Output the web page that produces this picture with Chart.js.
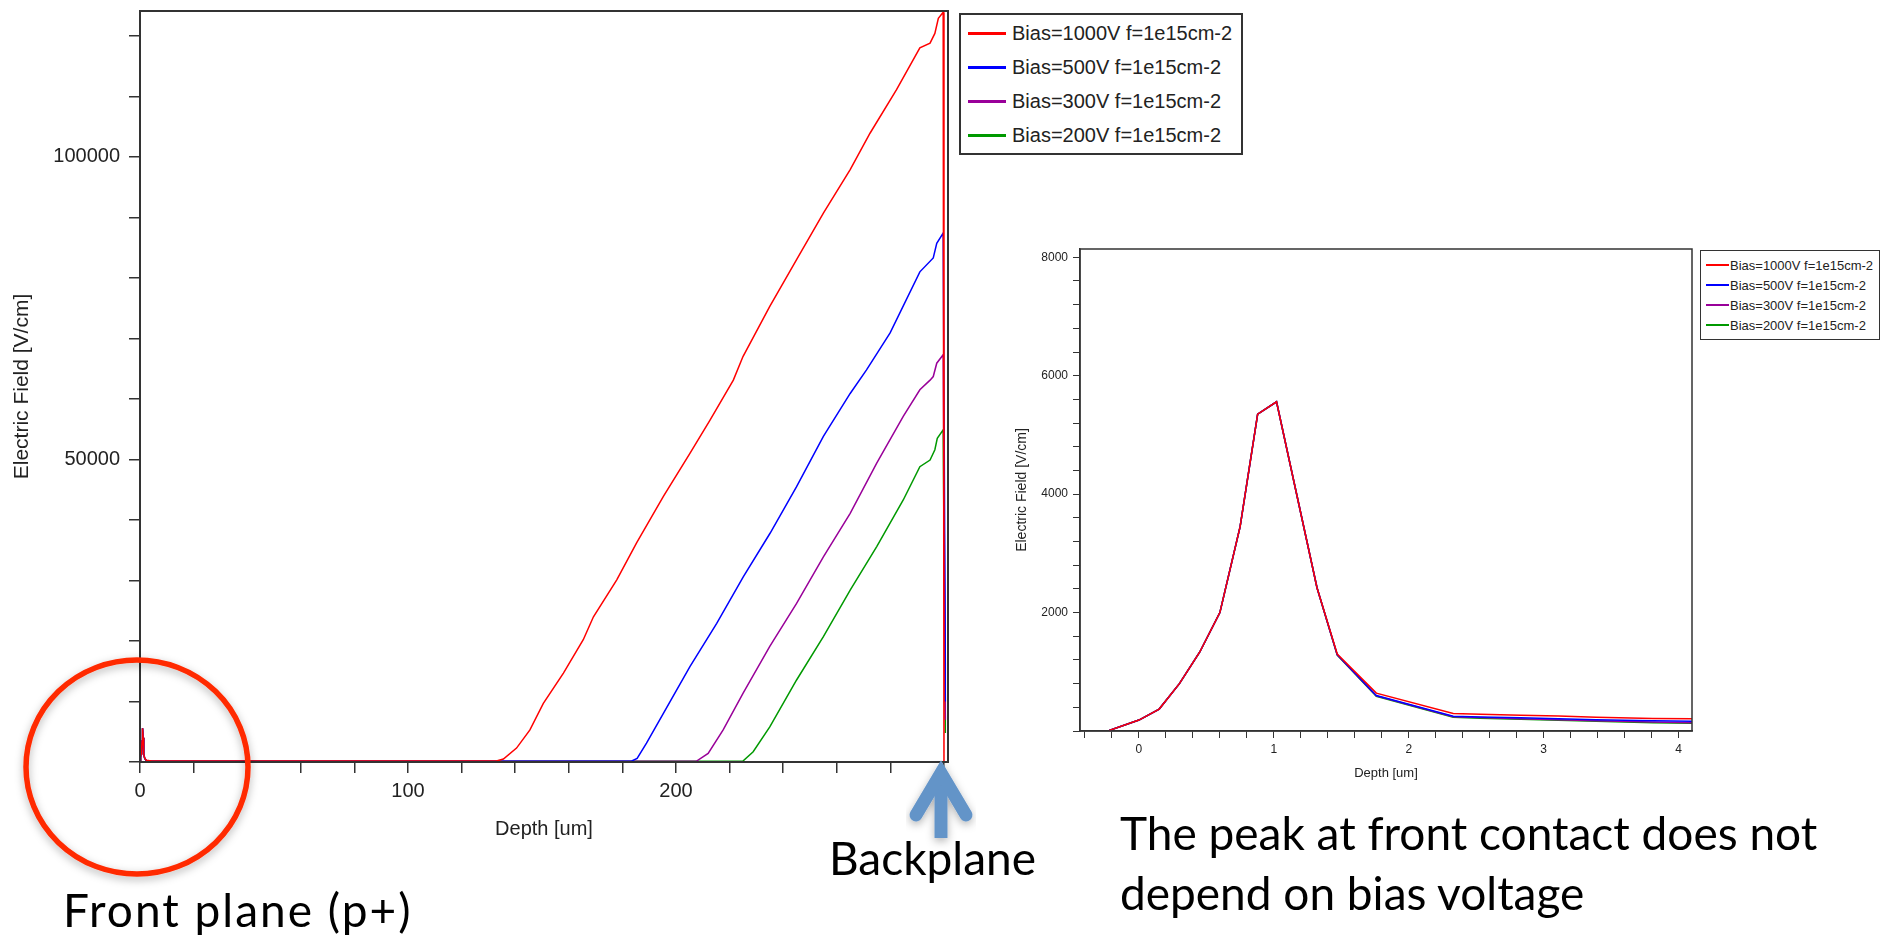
<!DOCTYPE html>
<html>
<head>
<meta charset="utf-8">
<script src="https://cdn.jsdelivr.net/npm/chart.js@4.4.1/dist/chart.umd.min.js"></script>
<style>
  html, body { margin: 0; padding: 0; background: #fff; }
  body { width: 1890px; height: 938px; position: relative; overflow: hidden; font-family: "Liberation Sans", Arial, sans-serif; }
  canvas { position: absolute; }
  #mainChart { left: 0; top: 0; }
  #insetChart { left: 990px; top: 240px; }
  .legend { position: absolute; background: #fff; box-sizing: border-box; color: #222; }
  .legend .row { display: flex; align-items: center; white-space: nowrap; }
  .legend .swatch { display: inline-block; }
  #mainLegend { left: 959px; top: 13px; width: 284px; height: 142px; border: 2px solid #333; padding-top: 1px; }
  #mainLegend .row { height: 34px; font-size: 20px; }
  #mainLegend .swatch { width: 38px; height: 3px; margin-left: 7px; margin-right: 6px; }
  #insetLegend { left: 1700px; top: 250px; width: 180px; height: 90px; border: 1px solid #333; padding-top: 4px; }
  #insetLegend .row { height: 20px; font-size: 13px; }
  #insetLegend .swatch { width: 23px; height: 2px; margin-left: 5px; margin-right: 1px; }
  .note { position: absolute; font-family: Lato, "Open Sans", sans-serif; font-size: 46px; line-height: 60px; color: #000; white-space: nowrap; }
  #overlay { position: absolute; left: 0; top: 0; }
</style>
</head>
<body>
<canvas id="mainChart" width="955" height="850"></canvas>
<canvas id="insetChart" width="705" height="560"></canvas>
<div id="mainLegend" class="legend"></div>
<div id="insetLegend" class="legend"></div>

<svg id="overlay" width="1890" height="938">
  <defs>
    <filter id="soft" x="-20%" y="-20%" width="140%" height="140%">
      <feDropShadow dx="0" dy="3" stdDeviation="4" flood-color="#000" flood-opacity="0.3"/>
    </filter>
  </defs>
  <!-- cercle autour du contact avant -->
  <ellipse cx="137" cy="767" rx="111" ry="107" fill="none" stroke="#ff2a00" stroke-width="5.5" filter="url(#soft)"/>
  <!-- fleche vers le backplane -->
  <g stroke="#6494c8" stroke-width="13" fill="none" filter="url(#soft)">
    <line x1="941" y1="838" x2="941" y2="775" stroke-linecap="butt"/>
    <polyline points="916,815 941,773 966,815" stroke-linecap="round" stroke-linejoin="miter"/>
  </g>
</svg>

<div class="note" style="left:63px; top:880px; letter-spacing:2px;">Front plane (p+)</div>
<div class="note" style="left:829px; top:828px;">Backplane</div>
<div class="note" style="left:1120px; top:803px;">The peak at front contact does not<br>depend on bias voltage</div>

<script>
// Series labels and colours
const labels = ["Bias=1000V f=1e15cm-2", "Bias=500V f=1e15cm-2", "Bias=300V f=1e15cm-2", "Bias=200V f=1e15cm-2"];
const colors = ["#ff0000", "#0000ff", "#990099", "#009900"];

// Front contact region (um) - same mesh for all biases
const frontDepth = [-0.22, 0, 0.15, 0.3, 0.45, 0.6, 0.75, 0.88, 1.02, 1.17, 1.32, 1.47, 1.76, 2.33, 2.53, 2.83, 3.11, 3.39, 3.81, 4.2];
const frontField1000 = [10, 185, 370, 800, 1330, 2000, 3450, 5350, 5560, 3990, 2420, 1300, 640, 295, 282, 268, 252, 232, 213, 205];
const frontField500  = [10, 185, 370, 800, 1330, 2000, 3450, 5350, 5560, 3990, 2420, 1290, 600, 250, 238, 222, 208, 192, 172, 163];
const frontField300  = [10, 185, 370, 800, 1330, 2000, 3450, 5350, 5560, 3990, 2420, 1285, 592, 240, 226, 208, 192, 172, 150, 138];
const frontField200  = [10, 185, 370, 800, 1330, 2000, 3450, 5350, 5560, 3990, 2420, 1280, 586, 232, 216, 198, 182, 164, 140, 128];

// Bulk region up to the backplane (um)
const bulkDepth1000 = [60, 133, 135.6, 140.5, 145.5, 150.5, 158, 165.4, 169.2, 177.9, 185.3, 195.3, 205.2, 212.7, 221.4, 225, 235, 245, 255, 265, 272.4, 282.3, 291, 294.8, 296.6, 297.9, 299.7, 300.0];
const bulkField1000 = [150, 180, 500, 2300, 5300, 9700, 14700, 20200, 24000, 30100, 36200, 43900, 51000, 56500, 63100, 67000, 75300, 83000, 90700, 97900, 103900, 111100, 118000, 118800, 120400, 122900, 123900, 0];
const bulkDepth500 = [60, 183.5, 185.5, 189, 195.3, 205.2, 215.2, 225.1, 235.1, 245, 255, 265, 271.1, 279.9, 291, 296, 297.3, 299.7, 300.5, 300.5];
const bulkField500 = [140, 170, 600, 3100, 8050, 15750, 22900, 30600, 37800, 45500, 53800, 60900, 64800, 70900, 81000, 83300, 85700, 87400, 16400, 10000];
const bulkDepth300 = [60, 207.7, 212, 217.6, 225, 235, 245, 255, 265, 274.9, 284.8, 291, 294.8, 296, 297.3, 299.7, 300.5, 300.5];
const bulkField300 = [130, 160, 1430, 5300, 11350, 19100, 26200, 33900, 41100, 49400, 57100, 61500, 63100, 63700, 65900, 67300, 10000, 7000];
const bulkDepth200 = [60, 225, 228.8, 235, 245, 255, 265, 274.9, 284.8, 291, 294.8, 296.6, 297.5, 299.7, 300.5, 300.5];
const bulkField200 = [120, 150, 1700, 5800, 13550, 20700, 28400, 35600, 43300, 48800, 49900, 51600, 53500, 54900, 7000, 4800];

// Labelled ticks
const mainXLabels = [0, 100, 200];
const mainYLabels = [50000, 100000];
const insetXLabels = [0, 1, 2, 3, 4];
const insetYLabels = [2000, 4000, 6000, 8000];

Chart.defaults.font.family = "'Liberation Sans', Arial, sans-serif";
Chart.defaults.color = "#222";

function toPoints(xs, ys) {
  return xs.map((x, i) => ({ x: x, y: ys[i] }));
}

function makeDataset(i, pts, width) {
  return {
    label: labels[i],
    data: pts,
    borderColor: colors[i],
    backgroundColor: colors[i],
    borderWidth: width,
    pointRadius: 0,
    tension: 0,
    fill: false
  };
}

// graduations régulières entre min et max de l'échelle
function stepTicks(step) {
  return function(scale) {
    const ticks = [];
    const first = Math.ceil(scale.min / step - 1e-9);
    const last = Math.floor(scale.max / step + 1e-9);
    for (let k = first; k <= last; k++) {
      ticks.push({ value: Math.round(k * step * 1e6) / 1e6 });
    }
    scale.ticks = ticks;
  };
}

// ne garder que les libellés voulus
function keepLabels(list) {
  return function(scale) {
    scale.ticks.forEach(t => {
      t.label = list.some(v => Math.abs(v - t.value) < 1e-6) ? String(Math.round(t.value)) : "";
    });
  };
}

// taille fixe de l'axe, sans marge ajoutée pour les libellés
function fixSize(prop, size) {
  return function(scale) {
    scale[prop] = size;
    scale.paddingTop = 0;
    scale.paddingBottom = 0;
    scale.paddingLeft = 0;
    scale.paddingRight = 0;
  };
}

// cadre noir autour de la zone de tracé
const framePlugin = {
  id: "frame",
  afterDraw(chart, args, opts) {
    const { ctx, chartArea } = chart;
    ctx.save();
    ctx.strokeStyle = opts.color || "#333";
    ctx.lineWidth = opts.width || 1.5;
    ctx.strokeRect(chartArea.left, chartArea.top, chartArea.right - chartArea.left, chartArea.bottom - chartArea.top);
    ctx.restore();
  }
};

const frontFields = [frontField1000, frontField500, frontField300, frontField200];
const bulkDepths = [bulkDepth1000, bulkDepth500, bulkDepth300, bulkDepth200];
const bulkFields = [bulkField1000, bulkField500, bulkField300, bulkField200];

// Graphique principal
const mainChart = new Chart(document.getElementById("mainChart"), {
  type: "line",
  data: {
    datasets: labels.map((l, i) =>
      makeDataset(i, toPoints(frontDepth.concat(bulkDepths[i]), frontFields[i].concat(bulkFields[i])), 1.5))
  },
  options: {
    responsive: false,
    animation: false,
    layout: { padding: { left: 0, top: 11, right: 7, bottom: 0 } },
    plugins: { legend: { display: false }, tooltip: { enabled: false }, frame: { color: "#333", width: 2 } },
    scales: {
      x: {
        type: "linear",
        min: 0,
        max: 301.5,
        afterFit: fixSize("height", 88),
        afterBuildTicks: stepTicks(20),
        afterTickToLabelConversion: keepLabels(mainXLabels),
        border: { color: "#333", width: 2 },
        grid: { drawOnChartArea: false, tickLength: 11, color: "#333", lineWidth: 1.5 },
        ticks: { autoSkip: false, maxRotation: 0, padding: 6, font: { size: 20 } },
        title: { display: true, text: "Depth [um]", font: { size: 20 }, padding: { top: 0, bottom: 9 } }
      },
      y: {
        type: "linear",
        position: "left",
        min: 0,
        max: 124100,
        afterFit: fixSize("width", 140),
        afterBuildTicks: stepTicks(10000),
        afterTickToLabelConversion: keepLabels(mainYLabels),
        border: { color: "#333", width: 2 },
        grid: { drawOnChartArea: false, tickLength: 11, color: "#333", lineWidth: 1.5 },
        ticks: { autoSkip: false, padding: 9, font: { size: 20 } },
        title: { display: true, text: "Electric Field [V/cm]", font: { size: 21 }, padding: { top: 10, bottom: 0 } }
      }
    }
  },
  plugins: [framePlugin]
});

// Zoom sur le contact avant
const insetChart = new Chart(document.getElementById("insetChart"), {
  type: "line",
  data: {
    datasets: labels.map((l, i) => makeDataset(i, toPoints(frontDepth, frontFields[i]), 1.5))
  },
  options: {
    responsive: false,
    animation: false,
    layout: { padding: { left: 0, top: 9, right: 3, bottom: 0 } },
    plugins: { legend: { display: false }, tooltip: { enabled: false }, frame: { color: "#333", width: 1.5 } },
    scales: {
      x: {
        type: "linear",
        min: -0.437,
        max: 4.1,
        afterFit: fixSize("height", 69),
        afterBuildTicks: stepTicks(0.2),
        afterTickToLabelConversion: keepLabels(insetXLabels),
        border: { color: "#333", width: 1.5 },
        grid: { drawOnChartArea: false, tickLength: 7, color: "#333", lineWidth: 1 },
        ticks: { autoSkip: false, maxRotation: 0, padding: 4, font: { size: 12 } },
        title: { display: true, text: "Depth [um]", font: { size: 13 }, padding: { top: 0, bottom: 19 } }
      },
      y: {
        type: "linear",
        position: "left",
        min: 0,
        max: 8140,
        afterFit: fixSize("width", 90),
        afterBuildTicks: stepTicks(400),
        afterTickToLabelConversion: keepLabels(insetYLabels),
        border: { color: "#333", width: 1.5 },
        grid: { drawOnChartArea: false, tickLength: 7, color: "#333", lineWidth: 1 },
        ticks: { autoSkip: false, padding: 5, font: { size: 12 } },
        title: { display: true, text: "Electric Field [V/cm]", font: { size: 14 }, padding: { top: 24, bottom: 0 } }
      }
    }
  },
  plugins: [framePlugin]
});

// Légendes HTML construites à partir des datasets
function buildLegend(chart, id) {
  const box = document.getElementById(id);
  chart.data.datasets.forEach(ds => {
    const row = document.createElement("div");
    row.className = "row";
    const sw = document.createElement("span");
    sw.className = "swatch";
    sw.style.background = ds.borderColor;
    const tx = document.createElement("span");
    tx.textContent = ds.label;
    row.append(sw, tx);
    box.appendChild(row);
  });
}
buildLegend(mainChart, "mainLegend");
buildLegend(insetChart, "insetLegend");
</script>
</body>
</html>
